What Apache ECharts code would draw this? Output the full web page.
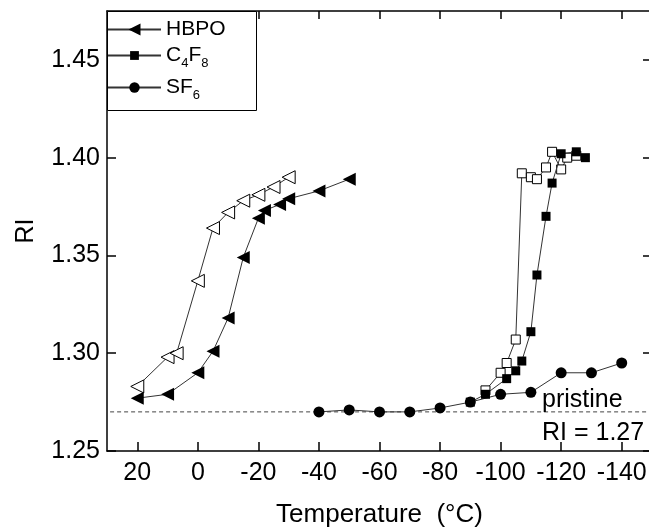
<!DOCTYPE html>
<html>
<head>
<meta charset="utf-8">
<script src="https://cdn.jsdelivr.net/npm/echarts@6/dist/echarts.min.js"></script>
<style>
  html, body { margin: 0; padding: 0; background: #fff; }
  #chart { width: 649px; height: 530px; }
</style>
</head>
<body>
<div id="chart"></div>
<script>
// Refractive index vs. temperature for three etch chemistries
const hbpoCoolT  = [20, 10, 0, -5, -10, -15, -20, -22, -27, -30, -40, -50];
const hbpoCoolRI = [1.277, 1.279, 1.290, 1.301, 1.318, 1.349, 1.369, 1.373, 1.376, 1.379, 1.383, 1.389];

const hbpoHeatT  = [20, 10, 7, 0, -5, -10, -15, -20, -25, -30];
const hbpoHeatRI = [1.283, 1.298, 1.300, 1.337, 1.364, 1.372, 1.378, 1.381, 1.385, 1.390];

const c4f8CoolT  = [-90, -95, -102, -105, -107, -110, -112, -115, -117, -120, -125, -128];
const c4f8CoolRI = [1.275, 1.279, 1.287, 1.291, 1.296, 1.311, 1.340, 1.370, 1.387, 1.402, 1.403, 1.400];

const c4f8HeatT  = [-95, -100, -102, -105, -107, -110, -112, -115, -117, -120, -122, -125];
const c4f8HeatRI = [1.281, 1.290, 1.295, 1.307, 1.392, 1.390, 1.389, 1.395, 1.403, 1.394, 1.400, 1.401];

const sf6T  = [-40, -50, -60, -70, -80, -90, -100, -110, -120, -130, -140];
const sf6RI = [1.270, 1.271, 1.270, 1.270, 1.272, 1.275, 1.279, 1.280, 1.290, 1.290, 1.295];

const PRISTINE_RI = 1.27;

const xTicks = [20, 0, -20, -40, -60, -80, -100, -120, -140];
const yTicks = [1.25, 1.30, 1.35, 1.40, 1.45];

const FONT = 'Liberation Sans, Arial, Helvetica, sans-serif';
const LINE = '#333';

function pairs(xs, ys) { return xs.map((x, i) => [x, ys[i]]); }

function lineSeries(name, xs, ys, symbol, size, open, extra) {
  return Object.assign({
    name: name,
    type: 'line',
    data: pairs(xs, ys),
    symbol: symbol,
    symbolSize: size,
    showAllSymbol: true,
    lineStyle: { color: LINE, width: 1 },
    itemStyle: open
      ? { color: '#fff', borderColor: '#000', borderWidth: 1 }
      : { color: '#000', borderColor: '#000', borderWidth: 0 },
    emphasis: { disabled: true },
    z: open ? 3 : 4
  }, extra || {});
}

const chart = echarts.init(document.getElementById('chart'), null, { renderer: 'canvas' });

const subRich = {
  s: { fontSize: 13, lineHeight: 13, verticalAlign: 'bottom', fontFamily: FONT, color: '#000' },
  n: { fontSize: 21, lineHeight: 28, fontFamily: FONT, color: '#000' }
};

function legendAt(name, top, itemHeight, formatter) {
  return {
    data: [name],
    left: 107,
    top: top,
    padding: 0,
    orient: 'vertical',
    itemWidth: 53,
    itemHeight: itemHeight,
    itemGap: 0,
    selectedMode: false,
    z: 60,
    formatter: formatter,
    textStyle: { fontSize: 21, fontFamily: FONT, color: '#000', rich: subRich }
  };
}

const axisFont = { fontSize: 25, fontFamily: FONT, color: '#000' };

const option = {
  animation: false,
  backgroundColor: '#fff',
  grid: { left: 107, top: 11, width: 545, height: 440, containLabel: false, outerBoundsMode: 'none' },
  legend: [
    legendAt('HBPO', 19, 15, () => 'HBPO'),
    legendAt('C4F8', 45, 11, () => '{n|C}{s|4}{n|F}{s|8}'),
    legendAt('SF6', 77, 13, () => '{n|SF}{s|6}')
  ],
  xAxis: [
    {
      type: 'value', position: 'bottom', inverse: true, min: -150, max: 30,
      name: 'Temperature  (°C)', nameLocation: 'middle', nameGap: 51,
      nameTextStyle: { fontSize: 26, fontFamily: FONT, color: '#000' },
      axisLine: { show: true, onZero: false, lineStyle: { color: '#000', width: 1.5 } },
      axisTick: { show: true, inside: true, length: 9, customValues: xTicks, lineStyle: { color: '#000', width: 1.5 } },
      axisLabel: { show: true, margin: 10, customValues: xTicks, ...axisFont },
      splitLine: { show: false }
    },
    {
      type: 'value', position: 'top', inverse: true, min: -150, max: 30,
      axisLine: { show: true, onZero: false, lineStyle: { color: '#000', width: 1.5 } },
      axisTick: { show: true, inside: true, length: 8, customValues: xTicks, lineStyle: { color: '#000', width: 1.5 } },
      axisLabel: { show: false },
      splitLine: { show: false }
    }
  ],
  yAxis: [
    {
      type: 'value', position: 'left', min: 1.25, max: 1.475,
      name: 'RI', nameLocation: 'middle', nameGap: 68,
      nameTextStyle: axisFont,
      axisLine: { show: true, onZero: false, lineStyle: { color: '#000', width: 1.5 } },
      axisTick: { show: true, inside: true, length: 9, customValues: yTicks, lineStyle: { color: '#000', width: 1.5 } },
      axisLabel: { show: true, margin: 7, customValues: yTicks, formatter: v => v.toFixed(2), ...axisFont },
      splitLine: { show: false }
    },
    {
      type: 'value', position: 'right', min: 1.25, max: 1.475,
      axisLine: { show: true, onZero: false, lineStyle: { color: '#000', width: 1.5 } },
      axisTick: { show: true, inside: true, length: 9, customValues: yTicks, lineStyle: { color: '#000', width: 1.5 } },
      axisLabel: { show: false },
      splitLine: { show: false }
    }
  ],
  series: [
    {
      name: 'pristine',
      type: 'line',
      data: [[33.6, PRISTINE_RI], [-150, PRISTINE_RI]],
      symbol: 'none',
      clip: false,
      silent: true,
      lineStyle: { color: '#444', width: 1, type: [4, 3] },
      z: 1
    },
    lineSeries('HBPO', hbpoCoolT, hbpoCoolRI, 'triangle', 13, false, { symbolRotate: 90 }),
    lineSeries('HBPO heating', hbpoHeatT, hbpoHeatRI, 'triangle', 13, true, { symbolRotate: 90 }),
    lineSeries('C4F8', c4f8CoolT, c4f8CoolRI, 'rect', 9, false),
    lineSeries('C4F8 heating', c4f8HeatT, c4f8HeatRI, 'rect', 9, true),
    lineSeries('SF6', sf6T, sf6RI, 'circle', 11, false)
  ],
  graphic: [
    {
      type: 'rect', z: 50,
      shape: { x: 107.5, y: 11.5, width: 149, height: 99 },
      style: { fill: '#fff', stroke: '#000', lineWidth: 1 }
    },
    {
      type: 'text', z: 5, left: 542, top: 388,
      style: { text: 'pristine', font: '25px ' + FONT, fill: '#000' }
    },
    {
      type: 'text', z: 5, left: 542, top: 421,
      style: { text: 'RI = ' + PRISTINE_RI.toFixed(2), font: '25px ' + FONT, fill: '#000' }
    }
  ]
};

chart.setOption(option);
</script>
</body>
</html>
